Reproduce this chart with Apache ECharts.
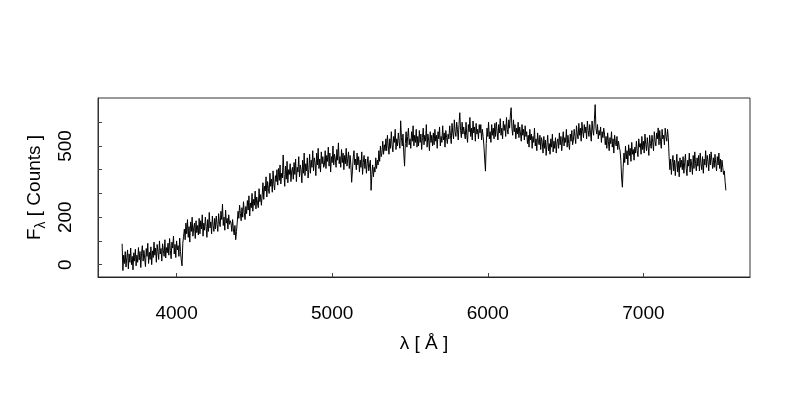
<!DOCTYPE html>
<html><head><meta charset="utf-8">
<script src="https://cdn.jsdelivr.net/npm/echarts@6/dist/echarts.min.js"></script>
<style>html,body{margin:0;padding:0;background:#fff}#c{width:800px;height:400px}</style>
</head><body><div id="c"></div>
<script>
// Wavelength sampling of the spectrum (Angstrom)
const lambdaStart = 3650;
const lambdaStep = 5;
// Flux values (counts), one per sample, 100 A per row
const flux = [
 88, -25, 40, 5, 55, -10, 30, 62, -18, 45, 10, 70, 0, 35, -22, 50, 15, 65, -5, 40,
 10, 72, 20, 55, -12, 48, 80, 15, 60, 28, -8, 68, 35, 90, 5, 52, 22, 75, 0, 58,
 30, 95, 40, 70, 10, 85, 55, 22, 100, 45, 68, 15, 88, 60, 35, 105, 28, 72, 50, 90,
 40, 110, 60, 25, 95, 70, 120, 45, 85, 30, 100, 62, 80, 35, 112, 55, 20, -5, 90, 120,
 150, 105, 175, 130, 190, 115, 160, 95, 180, 140, 200, 120, 155, 175, 110, 185, 135, 165, 125, 195,
 130, 185, 150, 210, 120, 175, 145, 200, 160, 115, 190, 140, 220, 155, 180, 130, 205, 165, 140, 195,
 150, 205, 170, 140, 215, 180, 160, 225, 190, 255, 165, 200, 145, 230, 175, 195, 150, 210, 170, 185,
 175, 140, 190, 150, 125, 165, 105, 140, 180, 225, 195, 250, 215, 185, 240, 200, 265, 220, 190, 245,
 215, 270, 230, 290, 205, 260, 240, 300, 225, 275, 250, 310, 235, 285, 260, 240, 320, 265, 295, 250,
 290, 345, 275, 330, 310, 370, 285, 350, 320, 300, 385, 330, 360, 305, 395, 340, 315, 375, 350, 400,
 335, 405, 355, 420, 340, 385, 365, 462, 380, 330, 415, 360, 435, 345, 400, 380, 425, 350, 395, 410,
 360, 430, 380, 445, 350, 410, 390, 455, 370, 420, 400, 345, 440, 385, 470, 375, 425, 395, 450, 365,
 400, 465, 385, 440, 410, 480, 395, 450, 430, 375, 470, 420, 490, 405, 445, 390, 475, 425, 455, 410,
 420, 480, 405, 460, 435, 495, 415, 470, 390, 455, 430, 500, 420, 465, 445, 410, 485, 440, 513, 425,
 455, 410, 485, 430, 470, 400, 460, 425, 490, 415, 445, 475, 405, 460, 420, 347, 395, 450, 480, 420,
 445, 400, 470, 420, 455, 390, 440, 410, 475, 380, 430, 460, 405, 445, 385, 425, 455, 395, 420, 440,
 313, 380, 420, 370, 410, 390, 450, 405, 440, 420, 480, 435, 500, 455, 470, 520, 465, 505, 480, 530,
 480, 545, 500, 465, 530, 490, 560, 505, 475, 540, 515, 570, 485, 530, 500, 555, 520, 490, 606, 535,
 500, 550, 470, 415, 510, 560, 495, 540, 575, 505, 530, 490, 560, 520, 585, 500, 545, 515, 570, 495,
 540, 500, 565, 515, 550, 485, 535, 575, 505, 545, 520, 590, 495, 550, 525, 480, 560, 515, 545, 500,
 555, 505, 570, 520, 545, 490, 560, 530, 580, 500, 540, 515, 585, 525, 555, 495, 565, 535, 510, 550,
 530, 585, 545, 510, 595, 555, 530, 610, 560, 540, 600, 570, 525, 590, 640, 565, 535, 600, 550, 580,
 575, 530, 600, 545, 515, 590, 560, 620, 540, 575, 525, 605, 555, 580, 520, 595, 550, 570, 530, 590,
 555, 590, 525, 570, 540, 500, 445, 394, 510, 575, 540, 600, 530, 560, 515, 590, 545, 575, 530, 595,
 540, 600, 560, 525, 590, 555, 615, 545, 575, 530, 605, 565, 590, 540, 620, 570, 550, 610, 575, 630,
 661, 575, 545, 610, 560, 590, 530, 575, 550, 600, 535, 580, 555, 520, 590, 545, 570, 525, 585, 540,
 560, 510, 545, 495, 570, 525, 550, 490, 540, 515, 575, 500, 530, 480, 555, 520, 505, 545, 485, 535,
 515, 470, 540, 490, 525, 460, 505, 545, 480, 510, 465, 530, 495, 550, 475, 520, 490, 535, 470, 515,
 530, 490, 555, 505, 540, 480, 525, 560, 500, 535, 515, 570, 495, 545, 510, 485, 550, 520, 565, 505,
 525, 570, 540, 510, 585, 550, 530, 595, 545, 575, 520, 600, 560, 535, 590, 555, 580, 530, 605, 565,
 540, 590, 555, 520, 605, 565, 545, 610, 674, 575, 550, 590, 530, 565, 545, 580, 515, 560, 535, 575,
 550, 505, 540, 490, 555, 520, 480, 535, 510, 560, 495, 530, 470, 545, 515, 500, 540, 485, 520, 495,
 480, 440, 365, 326, 410, 470, 430, 500, 445, 480, 420, 505, 460, 490, 435, 515, 465, 485, 440, 495,
 470, 520, 480, 455, 530, 495, 510, 465, 540, 485, 520, 470, 550, 505, 480, 535, 500, 460, 545, 510,
 490, 545, 515, 480, 560, 520, 500, 555, 530, 576, 505, 565, 520, 490, 570, 530, 545, 505, 575, 540,
 520, 570, 535, 455, 400, 445, 380, 430, 460, 395, 440, 375, 425, 465, 390, 435, 370, 450, 410, 440,
 400, 455, 385, 430, 465, 405, 375, 440, 415, 470, 390, 445, 420, 380, 460, 405, 475, 425, 395, 450,
 415, 460, 395, 470, 425, 400, 455, 385, 445, 420, 480, 410, 460, 435, 395, 465, 420, 475, 440, 405,
 450, 410, 465, 425, 395, 455, 420, 470, 405, 445, 390, 440, 410, 380, 395, 350, 313
];
const xTicks = [4000, 5000, 6000, 7000];
const yTicks = [0, 100, 200, 300, 400, 500, 600];
const yLabels = [0, 200, 500];
const xRange = [3495, 7685];
const yRange = [-52, 702];

const data = flux.map((f, i) => [lambdaStart + i * lambdaStep, f]);
const font = 'Liberation Sans, Arial, Helvetica, sans-serif';

const chart = echarts.init(document.getElementById('c'), null, {renderer: 'canvas'});
chart.setOption({
  animation: false,
  backgroundColor: '#fff',
  grid: {left: 98, right: 50, top: 98, bottom: 123, show: true, borderColor: '#333', borderWidth: 1, backgroundColor: 'transparent'},
  xAxis: {
    type: 'value', min: xRange[0], max: xRange[1],
    axisLine: {show: true, onZero: false, lineStyle: {color: '#222', width: 1}},
    axisTick: {show: true, inside: true, length: 4, customValues: xTicks, lineStyle: {color: '#444'}},
    axisLabel: {customValues: xTicks, formatter: v => String(v), fontSize: 19, margin: 27, color: '#000', fontFamily: font},
    splitLine: {show: false},
    name: '\u03bb [ \u00c5 ]', nameLocation: 'middle', nameGap: 57,
    nameTextStyle: {fontSize: 19, color: '#000', fontFamily: font}
  },
  yAxis: {
    type: 'value', min: yRange[0], max: yRange[1],
    axisLine: {show: true, onZero: false, lineStyle: {color: '#333', width: 1}},
    axisTick: {show: true, inside: true, length: 4, customValues: yTicks, lineStyle: {color: '#444'}},
    axisLabel: {customValues: yLabels, formatter: v => String(v), rotate: 90, fontSize: 19, margin: 23, color: '#000', fontFamily: font},
    splitLine: {show: false},
    name: '{a|F}{b|\u03bb}{a| [ Counts ]}', nameLocation: 'middle', nameGap: 48, nameRotate: 90,
    nameTextStyle: {
      color: '#000', fontFamily: font,
      rich: {
        a: {fontSize: 19, fontFamily: font, color: '#000', lineHeight: 26, verticalAlign: 'middle'},
        b: {fontSize: 14, fontFamily: font, color: '#000', lineHeight: 26, verticalAlign: 'bottom', padding: [10, 0, 0, 0]}
      }
    }
  },
  series: [{
    type: 'line', data: data, showSymbol: false, symbol: 'none',
    lineStyle: {color: '#000', width: 1}, silent: true
  }]
});
</script>
</body></html>
